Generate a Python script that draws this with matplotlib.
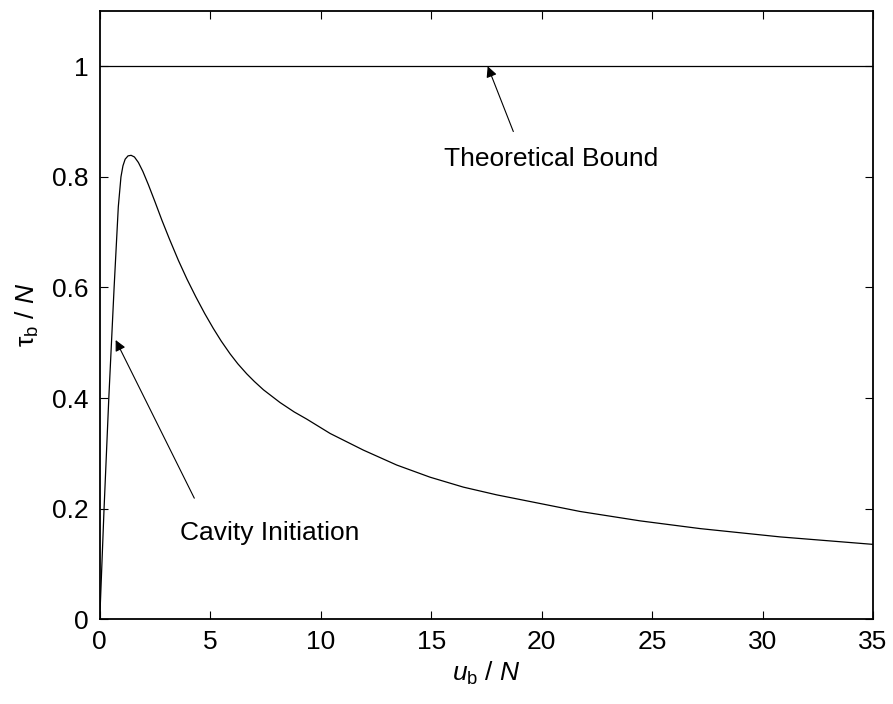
import matplotlib
matplotlib.use("Agg")
import matplotlib.pyplot as plt

# values
u_b = [0.0, 0.195, 0.41, 0.65, 0.84, 0.96, 1.05, 1.15, 1.28, 1.42, 1.57,
       1.75, 1.95, 2.2, 2.5, 2.81, 3.15, 3.56, 3.95, 4.35, 4.75, 5.14, 5.5,
       5.90, 6.25, 6.65, 7.0, 7.41, 8.16, 8.8, 9.37, 10.43, 11.93, 13.44,
       14.95, 16.46, 17.97, 19.48, 21.74, 24.46, 27.18, 30.8, 35.0]
tau_b = [0.0, 0.2, 0.4, 0.6, 0.746, 0.8, 0.82, 0.832, 0.838, 0.839, 0.836,
         0.826, 0.810, 0.786, 0.755, 0.722, 0.688, 0.649, 0.615, 0.583,
         0.553, 0.526, 0.503, 0.480, 0.462, 0.444, 0.430, 0.415, 0.392,
         0.375, 0.362, 0.336, 0.306, 0.279, 0.257, 0.239, 0.225, 0.213,
         0.195, 0.178, 0.164, 0.149, 0.1355]
bound = 1.0

x_ticks = [0, 5, 10, 15, 20, 25, 30, 35]
y_ticks = [0, 0.2, 0.4, 0.6, 0.8, 1.0]
y_tick_labels = ["0", "0.2", "0.4", "0.6", "0.8", "1"]

plt.rcParams["font.family"] = ["Liberation Sans", "DejaVu Sans"]
plt.rcParams["mathtext.fontset"] = "custom"
plt.rcParams["mathtext.rm"] = "Liberation Sans"
plt.rcParams["mathtext.it"] = "Liberation Sans:italic"
FS = 19

fig = plt.figure(figsize=(8.93, 7.04), dpi=100)
ax = fig.add_axes([0.1117, 0.1203, 0.8659, 0.8641])

ax.plot(u_b, tau_b, color="k", lw=0.9)
ax.axhline(bound, color="k", lw=0.9)

ax.set_xlim(0, 35)
ax.set_ylim(0, 1.1)
ax.set_xticks(x_ticks)
ax.set_yticks(y_ticks)
ax.set_yticklabels(y_tick_labels)
ax.tick_params(direction="in", length=6, width=0.8, top=True, right=True,
               labelsize=FS, pad=8)
for s in ax.spines.values():
    s.set_linewidth(1.3)

ax.set_xlabel(r"$u_{\rm b}\ /\ N$", fontsize=FS, labelpad=4)
ax.set_ylabel(r"τ$_{\rm b}$ / $N$", fontsize=FS, labelpad=8)

arrow = dict(arrowstyle="-|>", color="k", lw=0.8, mutation_scale=16,
             shrinkA=0, shrinkB=0)
ax.annotate("", xy=(17.56, 1.0), xytext=(18.72, 0.882), arrowprops=arrow)
ax.text(20.43, 0.832, "Theoretical Bound", fontsize=FS, ha="center", va="center")
ax.annotate("", xy=(0.72, 0.505), xytext=(4.28, 0.219), arrowprops=arrow)
ax.text(7.71, 0.156, "Cavity Initiation", fontsize=FS, ha="center", va="center")

fig.savefig("out.png", dpi=100)
